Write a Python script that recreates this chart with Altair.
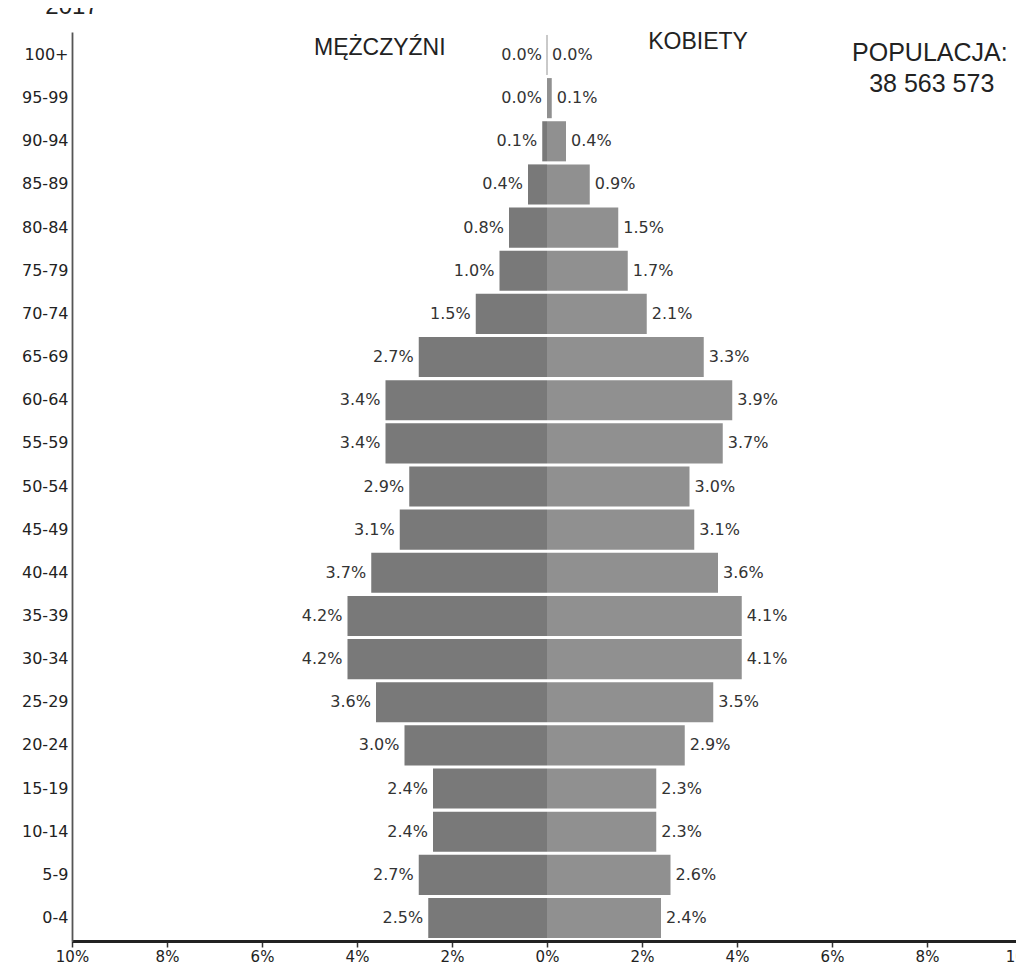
import altair as alt
import pandas as pd

ages = ["100+", "95-99", "90-94", "85-89", "80-84", "75-79", "70-74", "65-69",
        "60-64", "55-59", "50-54", "45-49", "40-44", "35-39", "30-34", "25-29",
        "20-24", "15-19", "10-14", "5-9", "0-4"]
male = [0.0, 0.0, 0.1, 0.4, 0.8, 1.0, 1.5, 2.7, 3.4, 3.4, 2.9, 3.1, 3.7, 4.2,
        4.2, 3.6, 3.0, 2.4, 2.4, 2.7, 2.5]
female = [0.0, 0.1, 0.4, 0.9, 1.5, 1.7, 2.1, 3.3, 3.9, 3.7, 3.0, 3.1, 3.6, 4.1,
          4.1, 3.5, 2.9, 2.3, 2.3, 2.6, 2.4]
x_ticks = [-10, -8, -6, -4, -2, 0, 2, 4, 6, 8, 10]

rows = []
for a, m, f in zip(ages, male, female):
    rows.append({"age": a, "sex": "M", "value": m, "signed": -m, "label": f"{m:.1f}%"})
    rows.append({"age": a, "sex": "K", "value": f, "signed": f, "label": f"{f:.1f}%"})
df = pd.DataFrame(rows)

FONT = "DejaVu Sans"
TFONT = "Liberation Sans"

xscale = alt.Scale(domain=[-10, 10], nice=False)
yscale = alt.Scale(paddingInner=0.07, paddingOuter=0.068)
yenc = alt.Y("age:N", sort=ages, scale=yscale,
             axis=alt.Axis(title=None, ticks=False, grid=False, domainColor="#555",
                           domainWidth=1.8, labelPadding=4, labelFontSize=16,
                           labelColor="#222", labelFont=FONT))

base = alt.Chart(df)

bars = base.mark_bar(strokeWidth=0).encode(
    x=alt.X("signed:Q", scale=xscale,
            axis=alt.Axis(title=None, values=x_ticks, grid=False,
                          labelExpr="abs(datum.value) + '%'",
                          domainColor="#222", domainWidth=3,
                          tickColor="#333", tickWidth=1.5, tickSize=6,
                          labelFontSize=15, labelColor="#222", labelFont=FONT,
                          labelPadding=2, labelFlush=False)),
    y=yenc,
    color=alt.Color("sex:N", scale=alt.Scale(domain=["M", "K"],
                                              range=["#797979", "#909090"]),
                    legend=None),
)

male_text = base.transform_filter(alt.datum.sex == "M").mark_text(
    align="right", baseline="middle", dx=-5, fontSize=16, font=FONT, color="#333"
).encode(x=alt.X("signed:Q", scale=xscale), y=alt.Y("age:N", sort=ages), text="label:N")

female_text = base.transform_filter(alt.datum.sex == "K").mark_text(
    align="left", baseline="middle", dx=5, fontSize=16, font=FONT, color="#333"
).encode(x=alt.X("signed:Q", scale=xscale), y=alt.Y("age:N", sort=ages), text="label:N")

zero_df = pd.DataFrame({"age": ["100+"], "x": [0]})
zero_line = alt.Chart(zero_df).mark_tick(
    orient="vertical", filled=False, thickness=0, size=40,
    stroke="#666", strokeWidth=1, strokeDash=[2, 2]
).encode(x=alt.X("x:Q", scale=xscale), y=alt.Y("age:N", sort=ages))

# annotation texts: (text, x in %, row, dy, size)
ann_text = ["MĘŻCZYŹNI", "KOBIETY", "POPULACJA:", "38 563 573"]
ann_x = [-3.52, 3.18, 8.06, 8.1]
ann_row = ["100+", "100+", "100+", "95-99"]
ann_dy = [-7, -13, -2, -14]
ann_size = [23, 23, 25, 25]

ann_layers = []
for t, xv, r, d, s in zip(ann_text, ann_x, ann_row, ann_dy, ann_size):
    adf = pd.DataFrame({"text": [t], "x": [xv], "age": [r]})
    ann_layers.append(
        alt.Chart(adf).mark_text(baseline="middle", align="center", font=TFONT,
                                 color="#222", fontSize=s, dy=d).encode(
            x=alt.X("x:Q", scale=xscale),
            y=alt.Y("age:N", sort=ages),
            text="text:N",
        )
    )

year = alt.Chart(pd.DataFrame({"t": ["2017"]})).mark_text(
    align="center", baseline="alphabetic", fontSize=24, font=TFONT, color="#222"
).encode(x=alt.value(0), y=alt.value(-18), text="t:N")

chart = alt.layer(bars, zero_line, male_text, female_text, *ann_layers, year).properties(
    width=950, height=909,
    background="white",
    autosize=alt.AutoSizeParams(type="none"),
    padding={"left": 64, "top": 24, "right": -6, "bottom": 25},
).configure_view(stroke=None)

chart.save("out.html", embed_options={"renderer": "svg", "actions": False})
